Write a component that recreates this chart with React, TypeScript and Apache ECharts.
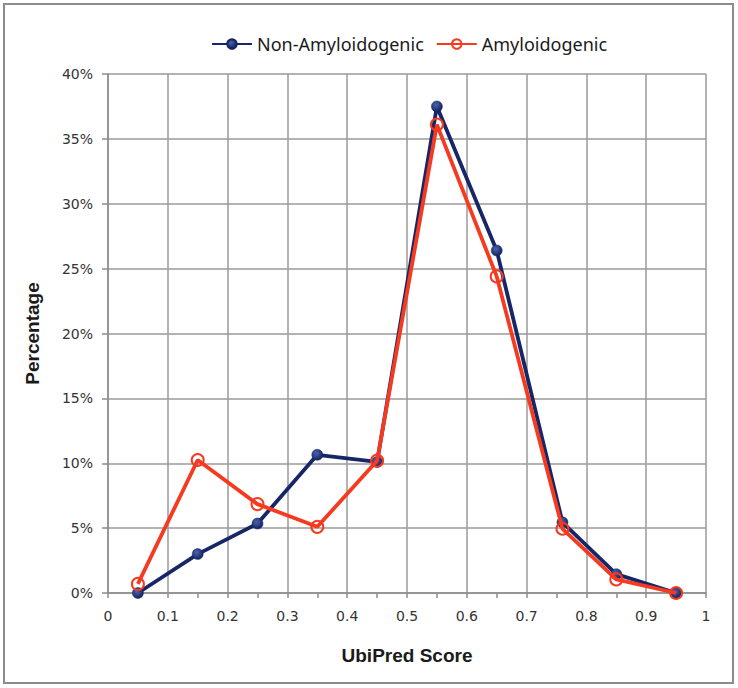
import React, { useEffect, useRef } from "react";
import * as echarts from "echarts";

const scores = [0.05, 0.15, 0.25, 0.35, 0.45, 0.55, 0.65, 0.76, 0.85, 0.95];
const nonAmyloidogenic = [0, 3.0, 5.35, 10.65, 10.1, 37.5, 26.4, 5.45, 1.45, 0];
const amyloidogenic = [0.7, 10.25, 6.85, 5.1, 10.2, 36.1, 24.4, 4.95, 1.05, 0];
const seriesNames = ["Non-Amyloidogenic", "Amyloidogenic"];
const xTitle = "UbiPred Score";
const yTitle = "Percentage";

const NAVY = "#172667";
const RED = "#f53a20";

export default function App() {
  const ref = useRef<HTMLDivElement>(null);
  useEffect(() => {
    document.body.style.margin = "0";
    const chart = echarts.init(ref.current!, null, { renderer: "svg" });
    const navyFill = new echarts.graphic.RadialGradient(0.4, 0.35, 0.7, [
      { offset: 0, color: "#4a64b0" },
      { offset: 1, color: "#101d55" },
    ]);
    chart.setOption({
      animation: false,
      backgroundColor: "#ffffff",
      graphic: [
        {
          type: "rect",
          shape: { x: 4, y: 4, width: 729, height: 679 },
          style: { fill: "none", stroke: "#8c8c8c", lineWidth: 2 },
          z: -1,
        },
      ],
      legend: {
        left: 206,
        top: 30,
        itemWidth: 40,
        itemHeight: 12,
        itemGap: 12,
        textStyle: { fontFamily: "Noto Sans", fontSize: 18, color: "#1a1a1a" },
        data: seriesNames,
      },
      grid: { left: 108, right: 32, top: 74, bottom: 95, containLabel: false },
      xAxis: {
        type: "value",
        min: 0,
        max: 1,
        interval: 0.1,
        name: xTitle,
        nameLocation: "middle",
        nameGap: 53,
        nameTextStyle: { fontFamily: "Liberation Sans", fontWeight: "bold", fontSize: 19, color: "#1a1a1a" },
        axisLine: { show: true, lineStyle: { color: "#8c8c8c", width: 1.5 } },
        axisTick: { show: true, length: 5, lineStyle: { color: "#8c8c8c", width: 1.5 } },
        minorTick: { show: true, splitNumber: 2, length: 5, lineStyle: { color: "#8c8c8c", width: 1.5 } },
        axisLabel: {
          margin: 16,
          fontFamily: "DejaVu Sans",
          fontSize: 14,
          color: "#333333",
          formatter: (v: number) => String(Math.round(v * 10) / 10),
        },
        splitLine: { show: true, lineStyle: { color: "#9a9a9a", width: 1.5 } },
      },
      yAxis: {
        type: "value",
        min: 0,
        max: 40,
        interval: 5,
        name: yTitle,
        nameLocation: "middle",
        nameGap: 66,
        nameTextStyle: { fontFamily: "Liberation Sans", fontWeight: "bold", fontSize: 19, color: "#1a1a1a" },
        axisLine: { show: true, lineStyle: { color: "#8c8c8c", width: 1.5 } },
        axisTick: { show: true, length: 6, lineStyle: { color: "#8c8c8c", width: 1.5 } },
        axisLabel: {
          margin: 15,
          fontFamily: "DejaVu Sans",
          fontSize: 14,
          color: "#333333",
          formatter: "{value}%",
        },
        splitLine: { show: true, lineStyle: { color: "#9a9a9a", width: 1.5 } },
      },
      series: [
        {
          name: seriesNames[0],
          type: "line",
          data: scores.map((x, i) => [x, nonAmyloidogenic[i]]),
          symbol: "circle",
          symbolSize: 11,
          lineStyle: { color: NAVY, width: 3.8 },
          itemStyle: { color: navyFill, borderColor: NAVY, borderWidth: 0.5 },
          z: 2,
        },
        {
          name: seriesNames[1],
          type: "line",
          data: scores.map((x, i) => [x, amyloidogenic[i]]),
          symbol: "circle",
          symbolSize: 12,
          lineStyle: { color: RED, width: 3.8 },
          itemStyle: { color: "rgba(255,255,255,0)", borderColor: RED, borderWidth: 2 },
          z: 3,
        },
      ],
    });
    return () => chart.dispose();
  }, []);
  return <div ref={ref} style={{ width: 738, height: 688 }} />;
}
